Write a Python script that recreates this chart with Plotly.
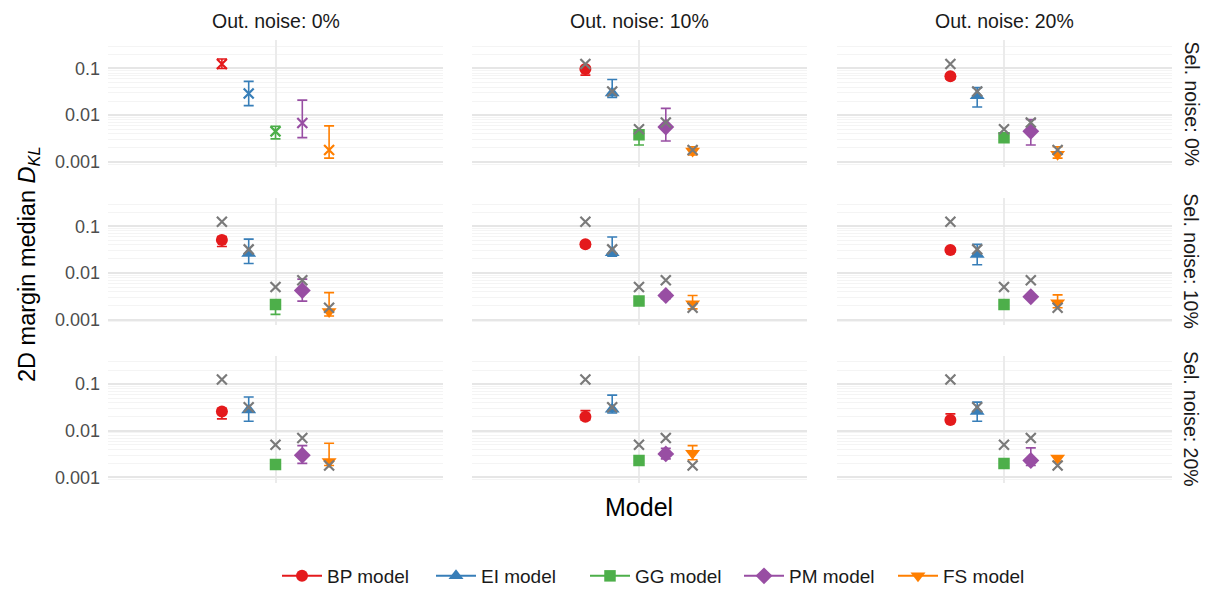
import plotly.graph_objects as go

models = ["BP model", "EI model", "GG model", "PM model", "FS model"]
colors = ["#E41A1C", "#377EB8", "#4DAF4A", "#984EA3", "#FF7F00"]
symbols = ["circle", "triangle-up", "square", "diamond", "triangle-down"]
sizes = [12, 13, 11.5, 13, 13]

out_noise = ["Out. noise: 0%", "Out. noise: 10%", "Out. noise: 20%"]
sel_noise = ["Sel. noise: 0%", "Sel. noise: 10%", "Sel. noise: 20%"]

# reference values (grey crosses)
reference = [0.125, 0.032, 0.005, 0.007, 0.0018]

# median D_KL per [sel noise row][out noise col][model]
median = [
    [[0.125, 0.029, 0.0045, 0.0068, 0.0018],
     [0.098, 0.030, 0.0038, 0.0056, 0.0017],
     [0.068, 0.026, 0.0033, 0.0045, 0.00145]],
    [[0.051, 0.026, 0.0021, 0.0042, 0.0015],
     [0.041, 0.027, 0.0025, 0.0033, 0.0022],
     [0.031, 0.025, 0.0021, 0.0031, 0.0023]],
    [[0.026, 0.028, 0.0019, 0.0030, 0.0022],
     [0.020, 0.029, 0.0023, 0.0032, 0.0033],
     [0.017, 0.026, 0.0020, 0.0023, 0.0026]],
]
lower = [
    [[0.10, 0.016, 0.0031, 0.0033, 0.0012],
     [0.072, 0.024, 0.0023, 0.0028, 0.0014],
     [0.060, 0.015, 0.0029, 0.0023, 0.0012]],
    [[0.037, 0.016, 0.0013, 0.0025, 0.0012],
     [0.036, 0.023, 0.0021, 0.0028, 0.0017],
     [0.028, 0.015, 0.0018, 0.0028, 0.0018]],
    [[0.018, 0.016, 0.0017, 0.0020, 0.0018],
     [0.017, 0.024, 0.0020, 0.0025, 0.0024],
     [0.015, 0.016, 0.0018, 0.0018, 0.0022]],
]
upper = [
    [[0.16, 0.053, 0.0058, 0.021, 0.0059],
     [0.11, 0.058, 0.0045, 0.014, 0.0021],
     [0.075, 0.039, 0.0037, 0.0081, 0.0021]],
    [[0.060, 0.053, 0.0026, 0.0074, 0.0038],
     [0.046, 0.059, 0.0030, 0.0038, 0.0033],
     [0.034, 0.041, 0.0025, 0.0034, 0.0034]],
    [[0.030, 0.053, 0.0021, 0.0048, 0.0054],
     [0.027, 0.058, 0.0026, 0.0042, 0.0048],
     [0.023, 0.041, 0.0022, 0.0043, 0.0029]],
]

y_ticks = [0.001, 0.01, 0.1]
y_ticktext = ["0.001", "0.01", "0.1"]

W, H = 1209, 589
col_px = [(108, 443), (471.5, 806.5), (836.5, 1171.5)]
row_px = [(40, 167), (197.8, 324.8), (355.6, 482.6)]

FONT = "Liberation Sans, Arial, sans-serif"
GREY = "#7a7a7a"
fig = go.Figure()
layout = {}

for r in range(3):
    for c in range(3):
        k = r * 3 + c + 1
        xa = "x" if k == 1 else f"x{k}"
        ya = "y" if k == 1 else f"y{k}"
        xname = "xaxis" if k == 1 else f"xaxis{k}"
        yname = "yaxis" if k == 1 else f"yaxis{k}"
        layout[xname] = dict(
            domain=[col_px[c][0] / W, col_px[c][1] / W],
            anchor=ya, type="category", range=[-0.5, 0.5],
            showticklabels=False, ticks="", showline=False, zeroline=False,
            showgrid=True, gridcolor="#ebebeb", gridwidth=2,
        )
        layout[yname] = dict(
            domain=[1 - row_px[r][1] / H, 1 - row_px[r][0] / H],
            anchor=xa, type="log", range=[-3.11, -0.39],
            tickmode="array", tickvals=y_ticks, ticktext=y_ticktext,
            showticklabels=(c == 0), ticks="", ticklabelstandoff=7,
            tickfont=dict(size=18, color="#4d4d4d", family=FONT),
            showline=False, zeroline=False,
            showgrid=True, gridcolor="#e6e6e6", gridwidth=2,
            minor=dict(showgrid=True, gridcolor="#f4f4f4", gridwidth=1, dtick="D1"),
        )
        special = (r == 0 and c == 0)
        for i, m in enumerate(models):
            v = median[r][c][i]
            fig.add_trace(go.Scatter(
                x=["Model"], y=[v], xaxis=xa, yaxis=ya,
                mode="lines+markers", name=m, legendgroup=m,
                offsetgroup=m, showlegend=(k == 2),
                line=dict(color=colors[i], width=2),
                marker=dict(
                    symbol="x-thin-open" if special else symbols[i],
                    size=10 if special else sizes[i],
                    color=colors[i],
                    line=dict(color=colors[i], width=2.2 if special else 0),
                ),
                error_y=dict(type="data", symmetric=False,
                             array=[upper[r][c][i] - v],
                             arrayminus=[v - lower[r][c][i]],
                             color=colors[i], thickness=1.6, width=5),
                hoverinfo="skip",
            ))
        if not special:
            for i, m in enumerate(models):
                fig.add_trace(go.Scatter(
                    x=["Model"], y=[reference[i]], xaxis=xa, yaxis=ya,
                    mode="markers", offsetgroup=m, showlegend=False,
                    marker=dict(symbol="x-thin-open", size=10, color=GREY,
                                line=dict(color=GREY, width=2.2)),
                    hoverinfo="skip",
                ))

annotations = []
for c in range(3):
    annotations.append(dict(
        text=out_noise[c], x=(col_px[c][0] + col_px[c][1]) / 2 / W, y=1 - 21 / H,
        xref="paper", yref="paper", showarrow=False,
        xanchor="center", yanchor="middle",
        font=dict(size=19.5, color="#1a1a1a", family=FONT)))
for r in range(3):
    annotations.append(dict(
        text=sel_noise[r], x=1191 / W, y=1 - (row_px[r][0] + row_px[r][1]) / 2 / H,
        xref="paper", yref="paper", showarrow=False, textangle=90,
        xanchor="center", yanchor="middle",
        font=dict(size=19.5, color="#1a1a1a", family=FONT)))
annotations.append(dict(
    text="2D margin median <i>D</i><sub><i>KL</i></sub>", x=28 / W, y=1 - 264 / H,
    xref="paper", yref="paper", showarrow=False, textangle=-90,
    xanchor="center", yanchor="middle",
    font=dict(size=23.5, color="#000000", family=FONT)))
annotations.append(dict(
    text="Model", x=639 / W, y=1 - 507 / H,
    xref="paper", yref="paper", showarrow=False,
    xanchor="center", yanchor="middle",
    font=dict(size=25, color="#000000", family=FONT)))

fig.update_layout(
    **layout,
    annotations=annotations,
    width=W, height=H,
    margin=dict(l=0, r=0, t=0, b=0, autoexpand=False),
    plot_bgcolor="white", paper_bgcolor="white",
    scattermode="group", scattergap=0.6,
    showlegend=True,
    legend=dict(orientation="h", x=662 / W, xanchor="center",
                y=1 - 576 / H, yanchor="middle",
                font=dict(size=19, color="#1a1a1a", family=FONT),
                itemwidth=40, entrywidth=99, tracegroupgap=0),
    font=dict(family=FONT),
)

fig.write_html("out.html")
